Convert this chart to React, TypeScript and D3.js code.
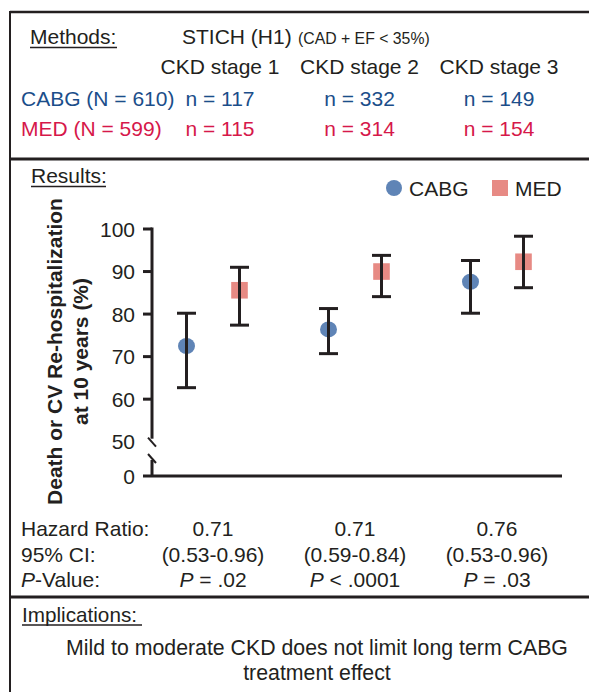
import React from "react";
import * as d3 from "d3";

const categories = ["CKD stage 1", "CKD stage 2", "CKD stage 3"];
const cabgN = [117, 332, 149];
const medN = [115, 314, 154];
const cabgRate = [72.5, 76.4, 87.6];
const cabgLo = [62.7, 70.7, 80.2];
const cabgHi = [80.2, 81.3, 92.6];
const medRate = [85.6, 90.0, 92.3];
const medLo = [77.4, 84.1, 86.2];
const medHi = [91.0, 93.8, 98.3];
const hazardRatios = ["0.71", "0.71", "0.76"];
const confIntervals = ["(0.53-0.96)", "(0.59-0.84)", "(0.53-0.96)"];
const pOps = ["=", "<", "="];
const pValues = [".02", ".0001", ".03"];
const yTicks = [60, 70, 80, 90, 100];

const FONT = "'Liberation Sans', Arial, Helvetica, sans-serif";
const INK = "#231f20";
const BLUE_TXT = "#1b4e8a";
const RED_TXT = "#d6184a";
const CABG_COL = "#5f84b6";
const MED_COL = "#e78a84";

export default function App() {
  const W = 589, H = 692;
  const y = d3.scaleLinear().domain([50, 100]).range([441.7, 229]);
  const yZero = 476;
  const xCat = d3.scalePoint<string>().domain(categories).range([213, 497]);
  const xHead = d3.scalePoint<string>().domain(categories).range([220, 499]);
  const off = 26.5;
  const axisX = 152;
  const cap = 9.5;

  const series = [
    { name: "CABG", rate: cabgRate, lo: cabgLo, hi: cabgHi, dx: -off, shape: "circle", color: CABG_COL },
    { name: "MED", rate: medRate, lo: medLo, hi: medHi, dx: off, shape: "square", color: MED_COL },
  ];

  return (
    <svg width={W} height={H} style={{ position: "absolute", left: 0, top: 0, background: "#fff" }} fontFamily={FONT}>
      <rect x={0} y={0} width={W} height={H} fill="#fff" />
      {/* frame */}
      <line x1={10} y1={12} x2={W} y2={12} stroke={INK} strokeWidth={2.5} />
      <line x1={10} y1={11} x2={10} y2={H} stroke={INK} strokeWidth={2} />
      <line x1={10} y1={159} x2={W} y2={159} stroke={INK} strokeWidth={3} />
      <line x1={10} y1={597} x2={W} y2={597} stroke={INK} strokeWidth={3} />

      {/* Methods */}
      <text x={30} y={44} fontSize={21} fill={INK}>Methods:</text>
      <line x1={30} y1={47.5} x2={117} y2={47.5} stroke={INK} strokeWidth={1.3} />
      <text x={182} y={44} fontSize={21} fill={INK}>STICH (H1)</text>
      <text x={298} y={44} fontSize={15.8} fill={INK}>(CAD + EF &lt; 35%)</text>
      {categories.map((c) => (
        <text key={c} x={xHead(c)} y={74} fontSize={21} fill={INK} textAnchor="middle">{c}</text>
      ))}
      <text x={21} y={105.5} fontSize={21} fill={BLUE_TXT}>CABG (N = 610)</text>
      <text x={21} y={135.5} fontSize={21} fill={RED_TXT}>MED (N = 599)</text>
      {categories.map((c, i) => (
        <g key={"n" + c}>
          <text x={xHead(c)} y={105.5} fontSize={21} fill={BLUE_TXT} textAnchor="middle">n = {cabgN[i]}</text>
          <text x={xHead(c)} y={135.5} fontSize={21} fill={RED_TXT} textAnchor="middle">n = {medN[i]}</text>
        </g>
      ))}

      {/* Results */}
      <text x={31} y={183} fontSize={21} fill={INK}>Results:</text>
      <line x1={31} y1={186.5} x2={106} y2={186.5} stroke={INK} strokeWidth={1.3} />

      {/* legend */}
      <circle cx={394} cy={188} r={8} fill={CABG_COL} />
      <text x={409} y={196} fontSize={21} fill={INK}>CABG</text>
      <rect x={492} y={180} width={16} height={16} fill={MED_COL} />
      <text x={515} y={196} fontSize={21} fill={INK}>MED</text>

      {/* y axis label */}
      <g transform={`translate(62, 351.5) rotate(-90)`}>
        <text x={0} y={0} fontSize={21} fontWeight="bold" fill={INK} textAnchor="middle">Death or CV Re-hospitalization</text>
        <text x={0} y={26} fontSize={21} fontWeight="bold" fill={INK} textAnchor="middle">at 10 years (%)</text>
      </g>

      {/* y axis */}
      <line x1={axisX} y1={y(100) - 1.5} x2={axisX} y2={y(50) - 3} stroke={INK} strokeWidth={3} />
      <line x1={axisX - 4} y1={y(50) - 4} x2={axisX + 4} y2={y(50) + 5} stroke={INK} strokeWidth={2} />
      <line x1={axisX - 4} y1={yZero - 22} x2={axisX + 4} y2={yZero - 13} stroke={INK} strokeWidth={2} />
      <line x1={axisX} y1={yZero - 16} x2={axisX} y2={yZero} stroke={INK} strokeWidth={3} />
      {yTicks.map((t) => (
        <g key={t}>
          <line x1={axisX - 9} y1={y(t)} x2={axisX} y2={y(t)} stroke={INK} strokeWidth={3} />
          <text x={135} y={y(t) + 7.5} fontSize={21} fill={INK} textAnchor="end">{t}</text>
        </g>
      ))}
      <text x={135} y={y(50) + 7.5} fontSize={21} fill={INK} textAnchor="end">50</text>
      <text x={135} y={yZero + 7.5} fontSize={21} fill={INK} textAnchor="end">0</text>
      {/* x axis */}
      <line x1={143} y1={yZero} x2={562} y2={yZero} stroke={INK} strokeWidth={3} />

      {/* points & error bars */}
      {series.map((s) => (
        <g key={s.name}>
          {categories.map((c, i) => {
            const cx = (xCat(c) as number) + s.dx;
            return (
              <g key={c}>
                {s.shape === "circle" ? (
                  <ellipse cx={cx} cy={y(s.rate[i])} rx={8.5} ry={8} fill={s.color} />
                ) : (
                  <rect x={cx - 8.3} y={y(s.rate[i]) - 8.3} width={16.6} height={16.6} fill={s.color} />
                )}
                <line x1={cx} y1={y(s.hi[i])} x2={cx} y2={y(s.lo[i])} stroke={INK} strokeWidth={3} />
                <line x1={cx - cap} y1={y(s.hi[i])} x2={cx + cap} y2={y(s.hi[i])} stroke={INK} strokeWidth={3} />
                <line x1={cx - cap} y1={y(s.lo[i])} x2={cx + cap} y2={y(s.lo[i])} stroke={INK} strokeWidth={3} />
              </g>
            );
          })}
        </g>
      ))}

      {/* stats */}
      <text x={21} y={536} fontSize={21} fill={INK}>Hazard Ratio:</text>
      <text x={21} y={562} fontSize={21} fill={INK}>95% CI:</text>
      <text x={21} y={587} fontSize={21} fill={INK}>
        <tspan fontStyle="italic">P</tspan>-Value:
      </text>
      {categories.map((c, i) => (
        <g key={"s" + c}>
          <text x={xCat(c)} y={536} fontSize={21} fill={INK} textAnchor="middle">{hazardRatios[i]}</text>
          <text x={xCat(c)} y={562} fontSize={21} fill={INK} textAnchor="middle">{confIntervals[i]}</text>
          <text x={xCat(c)} y={587} fontSize={21} fill={INK} textAnchor="middle">
            <tspan fontStyle="italic">P</tspan> {pOps[i]} {pValues[i]}
          </text>
        </g>
      ))}

      {/* Implications */}
      <text x={22} y={621.5} fontSize={20.7} fill={INK}>Implications:</text>
      <line x1={22} y1={625} x2={142} y2={625} stroke={INK} strokeWidth={1.3} />
      <text x={317} y={655} fontSize={21.3} fill={INK} textAnchor="middle">Mild to moderate CKD does not limit long term CABG</text>
      <text x={317} y={680} fontSize={21.3} fill={INK} textAnchor="middle">treatment effect</text>
    </svg>
  );
}
